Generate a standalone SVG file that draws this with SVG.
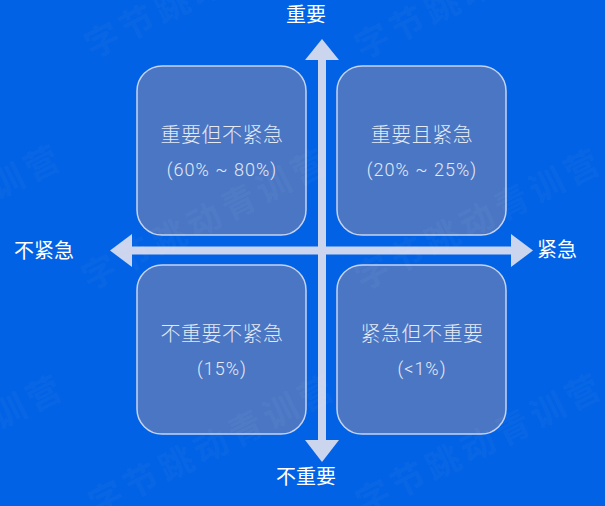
<svg xmlns="http://www.w3.org/2000/svg" width="605" height="506" viewBox="0 0 605 506">
  <style>
    .box { fill: #4a76c4; stroke: #c6d3ef; stroke-width: 1.5; }
    .t1 { font-family: "Noto Sans CJK SC", "Noto Sans", sans-serif; font-size: 20px; font-weight: 300; fill: #e4e9f4; text-anchor: middle; letter-spacing: 0.5px; }
    .t2 { font-family: Roboto, "Liberation Sans", sans-serif; font-size: 18px; font-weight: 300; fill: #e4e9f4; text-anchor: middle; letter-spacing: 1px; }
    .axis { font-family: "Noto Sans CJK SC", "Noto Sans", sans-serif; font-size: 20px; fill: #ffffff; text-anchor: middle; }
    .arrow { fill: #ccd5ee; }
    .wm { font-family: "Noto Sans CJK SC", sans-serif; font-size: 34px; font-weight: bold; fill: #ffffff; fill-opacity: 0.05; text-anchor: middle; dominant-baseline: central; letter-spacing: 5px; }
  </style>
  <rect x="0" y="0" width="605" height="506" fill="#0162e5"/>

  <g id="connectors">
    <rect class="arrow" x="318" y="59" width="8" height="382"/>
    <polygon class="arrow" points="322,39 339,60 305,60"/>
    <polygon class="arrow" points="322,462 339,440 305,440"/>
    <rect class="arrow" x="131" y="246.5" width="382" height="8"/>
    <polygon class="arrow" points="110,250.5 132,234 132,267"/>
    <polygon class="arrow" points="533,250.5 511,234 511,267"/>
  </g>

  <g id="node-important-not-urgent">
    <rect class="box" x="137" y="66" width="169" height="169" rx="25"/>
    <text class="t1" x="222" y="142">重要但不紧急</text>
    <text class="t2" x="222" y="176">(60% ~ 80%)</text>
  </g>
  <g id="node-important-urgent">
    <rect class="box" x="337" y="66" width="169" height="169" rx="25"/>
    <text class="t1" x="422" y="142">重要且紧急</text>
    <text class="t2" x="422" y="176">(20% ~ 25%)</text>
  </g>
  <g id="node-not-important-not-urgent">
    <rect class="box" x="137" y="265" width="169" height="169" rx="25"/>
    <text class="t1" x="222" y="341">不重要不紧急</text>
    <text class="t2" x="222" y="375">(15%)</text>
  </g>
  <g id="node-urgent-not-important">
    <rect class="box" x="337" y="265" width="169" height="169" rx="25"/>
    <text class="t1" x="422" y="341">紧急但不重要</text>
    <text class="t2" x="422" y="375">(&lt;1%)</text>
  </g>

  <g id="axis-labels">
    <text class="axis" x="306" y="22">重要</text>
    <text class="axis" x="306" y="484">不重要</text>
    <text class="axis" x="44" y="258">不紧急</text>
    <text class="axis" x="557" y="257">紧急</text>
  </g>

  <g id="watermark">
    <text class="wm" transform="translate(208,-15) rotate(-26.6)">字节跳动青训营</text>
    <text class="wm" transform="translate(478,-14) rotate(-26.6)">字节跳动青训营</text>
    <text class="wm" transform="translate(-62,213) rotate(-26.6)">字节跳动青训营</text>
    <text class="wm" transform="translate(205,217) rotate(-26.6)">字节跳动青训营</text>
    <text class="wm" transform="translate(478,217) rotate(-26.6)">字节跳动青训营</text>
    <text class="wm" transform="translate(-60,443) rotate(-26.6)">字节跳动青训营</text>
    <text class="wm" transform="translate(212,443) rotate(-26.6)">字节跳动青训营</text>
    <text class="wm" transform="translate(479,442) rotate(-26.6)">字节跳动青训营</text>
  </g>
</svg>
